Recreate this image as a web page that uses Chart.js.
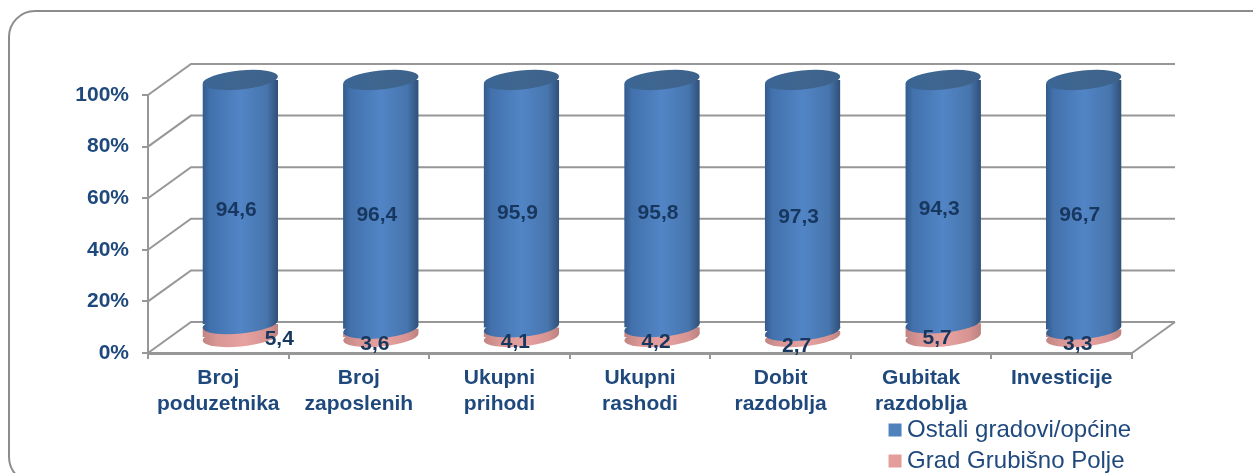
<!DOCTYPE html>
<html>
<head>
<meta charset="utf-8">
<title>Grubišno Polje</title>
<script src="https://cdn.jsdelivr.net/npm/chart.js@4"></script>
<style>
    html, body { margin: 0; padding: 0; width: 1253px; height: 473px; overflow: hidden; background: #fff; }
    #frame { position: absolute; left: 8px; top: 10px; width: 1300px; height: 470px; border: 2px solid #8c8c8c; border-radius: 27px; }
    #chart { position: absolute; left: 0; top: 0; }
</style>
</head>
<body>
<div id="frame"></div>
<canvas id="chart" width="1253" height="473"></canvas>
<script>
const categories = [['Broj', 'poduzetnika'], ['Broj', 'zaposlenih'], ['Ukupni', 'prihodi'], ['Ukupni', 'rashodi'], ['Dobit', 'razdoblja'], ['Gubitak', 'razdoblja'], ['Investicije']];
const ostaliValues = [94.6, 96.4, 95.9, 95.8, 97.3, 94.3, 96.7];
const gradValues = [5.4, 3.6, 4.1, 4.2, 2.7, 5.7, 3.3];
const yTicks = [0, 20, 40, 60, 80, 100];

const FONT = '"Liberation Sans", Arial, sans-serif';
const NAVY = '#1f497d';
const GRID = '#979797';
const BAR_PCT = 0.538;
const SOLID_PINK = '#e39d9b';
const SOLID_BLUE = '#4f81bd';

// 3D look: offset of the back wall and of the cylinders from the front axes
const DEPTH_X = 43;
const DEPTH_Y = -31;
const BAR_DX = 22;
const BAR_DY = -15;
const TILT = -0.1;
const RY = 9.5;

function barGeometry(chart, i) {
    const xScale = chart.scales.x;
    const half = xScale.width / categories.length * BAR_PCT / 2;
    return { x: xScale.getPixelForValue(i), half };
}

function fillFor(stops, solid) {
    return (ctx) => {
        const chart = ctx.chart;
        if (ctx.type !== 'data' || !chart.chartArea) return solid;
        const { x, half } = barGeometry(chart, ctx.dataIndex);
        const g = chart.ctx.createLinearGradient(x - half, 0, x + half, 0);
        stops.forEach(([p, c]) => g.addColorStop(p, c));
        return g;
    };
}

const blueStops = [[0, '#335a8c'], [0.1, '#4271ac'], [0.5, '#5285c6'], [0.85, '#4775ad'], [1, '#2f4f78']];
const pinkStops = [[0, '#c08583'], [0.2, '#d99694'], [0.55, '#e7a2a0'], [0.85, '#d69391'], [1, '#bb8280']];

// walls, cylinder caps and data labels are added around the normal bar drawing
const cylinders = {
    id: 'cylinders',
    beforeDatasetsDraw(chart) {
        const { ctx, chartArea: a, scales: { y } } = chart;
        ctx.save();
        ctx.strokeStyle = GRID;
        ctx.lineWidth = 2;
        yTicks.forEach((t) => {
            const py = y.getPixelForValue(t);
            ctx.beginPath();
            ctx.moveTo(a.left, py);
            ctx.lineTo(a.left + DEPTH_X, py + DEPTH_Y);
            ctx.lineTo(a.right + DEPTH_X, py + DEPTH_Y);
            ctx.stroke();
        });
        ctx.beginPath();
        ctx.moveTo(a.right, a.bottom);
        ctx.lineTo(a.right + DEPTH_X, a.bottom + DEPTH_Y);
        ctx.stroke();
        ctx.restore();
    },
    beforeDatasetDraw(chart, args) {
        const { ctx } = chart;
        const meta = chart.getDatasetMeta(args.index);
        ctx.save();
        ctx.translate(BAR_DX, BAR_DY);
        const s = Math.sin(-TILT) * meta.data[0].width / 2;
        ctx.beginPath();
        meta.data.forEach((bar) => {
            const l = bar.x - bar.width / 2, r = bar.x + bar.width / 2;
            ctx.moveTo(l, bar.y + s);
            ctx.lineTo(r, bar.y - s);
            ctx.lineTo(r, bar.base - s);
            ctx.lineTo(l, bar.base + s);
            ctx.closePath();
        });
        ctx.clip();
    },
    afterDatasetDraw(chart, args) {
        const { ctx } = chart;
        const meta = chart.getDatasetMeta(args.index);
        ctx.restore();
        // pink is drawn last, its bottom rim goes here, the blue parts on top later
        if (args.index !== 0) return;
        ctx.save();
        ctx.translate(BAR_DX, BAR_DY);
        meta.data.forEach((bar) => {
            ctx.fillStyle = bar.options.backgroundColor;
            ctx.beginPath();
            ctx.ellipse(bar.x, bar.base, bar.width / 2, RY, TILT, 0, Math.PI * 2);
            ctx.fill();
        });
        ctx.restore();
    },
    afterDatasetsDraw(chart) {
        const { ctx, scales: { y } } = chart;
        const blue = chart.getDatasetMeta(1).data;
        ctx.save();
        ctx.translate(BAR_DX, BAR_DY);
        blue.forEach((bar) => {
            ctx.fillStyle = bar.options.backgroundColor;
            ctx.beginPath();
            ctx.ellipse(bar.x, bar.base, bar.width / 2, RY, TILT, 0, Math.PI * 2);
            ctx.fill();
            const g = ctx.createLinearGradient(bar.x - bar.width / 2, 0, bar.x + bar.width / 2, 0);
            g.addColorStop(0, '#3a6594');
            g.addColorStop(0.5, '#40668f');
            g.addColorStop(1, '#3c628c');
            ctx.fillStyle = g;
            ctx.beginPath();
            ctx.ellipse(bar.x, bar.y, bar.width / 2, RY, TILT, 0, Math.PI * 2);
            ctx.fill();
        });
        ctx.restore();

        ctx.save();
        ctx.font = 'bold 21px ' + FONT;
        ctx.fillStyle = '#17375e';
        ctx.textAlign = 'center';
        ctx.textBaseline = 'middle';
        blue.forEach((bar, i) => {
            const x = bar.x + BAR_DX;
            ctx.fillText(String(ostaliValues[i]).replace('.', ','), x - 4, y.getPixelForValue(50 + gradValues[i]));
            // first small label sits beside the cylinder in the original
            ctx.fillText(String(gradValues[i]).replace('.', ','), x + (i === 0 ? 39 : -6), y.getPixelForValue(gradValues[i]));
        });
        ctx.restore();
    }
};

// legend sits under the last categories, outside the normal layout boxes
const legendPlace = {
    id: 'legendPlace',
    afterLayout(chart) {
        const l = chart.legend;
        const w = l.width, h = l.height;
        l.left = 888;
        l.right = l.left + w;
        l.top = 411;
        l.bottom = l.top + h;
    }
};

new Chart(document.getElementById('chart'), {
    type: 'bar',
    data: {
        labels: categories,
        datasets: [
            { label: 'Grad Grubišno Polje', data: gradValues, backgroundColor: fillFor(pinkStops, SOLID_PINK), borderWidth: 0, barPercentage: BAR_PCT, categoryPercentage: 1 },
            { label: 'Ostali gradovi/općine', data: ostaliValues, backgroundColor: fillFor(blueStops, SOLID_BLUE), borderWidth: 0, barPercentage: BAR_PCT, categoryPercentage: 1 }
        ]
    },
    options: {
        responsive: false,
        animation: false,
        layout: { padding: { top: 95, right: 121, left: 0, bottom: 0 } },
        plugins: {
            tooltip: { enabled: false },
            legend: {
                position: 'chartArea',
                align: 'start',
                reverse: true,
                labels: {
                    usePointStyle: true,
                    pointStyle: 'rect',
                    boxWidth: 0.1,
                    boxHeight: 13,
                    padding: 7,
                    color: NAVY,
                    font: { family: FONT, size: 24 },
                    generateLabels(chart) {
                        const items = Chart.defaults.plugins.legend.labels.generateLabels(chart);
                        items.forEach((item) => {
                            item.fillStyle = item.datasetIndex === 0 ? SOLID_PINK : SOLID_BLUE;
                            item.strokeStyle = item.fillStyle;
                            item.lineWidth = 0;
                        });
                        return items;
                    }
                }
            }
        },
        scales: {
            x: {
                stacked: true,
                afterFit(s) { s.height = 120; },
                grid: { offset: true, drawOnChartArea: false, color: GRID, lineWidth: 2, tickLength: 6 },
                border: { color: GRID, width: 3 },
                ticks: {
                    maxRotation: 0,
                    autoSkip: false,
                    color: NAVY,
                    padding: 6,
                    font: { family: FONT, size: 21, weight: 'bold', lineHeight: 1.24 }
                }
            },
            y: {
                stacked: true,
                min: 0,
                max: 100,
                afterFit(s) { s.width = 148; },
                afterBuildTicks(s) { s.ticks = yTicks.map((value) => ({ value })); },
                grid: { drawOnChartArea: false, color: GRID, lineWidth: 2, tickLength: 6 },
                border: { color: GRID, width: 2 },
                ticks: {
                    color: NAVY,
                    padding: 13,
                    font: { family: FONT, size: 21, weight: 'bold' },
                    callback: (v) => v + '%'
                }
            }
        }
    },
    plugins: [cylinders, legendPlace]
});
</script>
</body>
</html>
